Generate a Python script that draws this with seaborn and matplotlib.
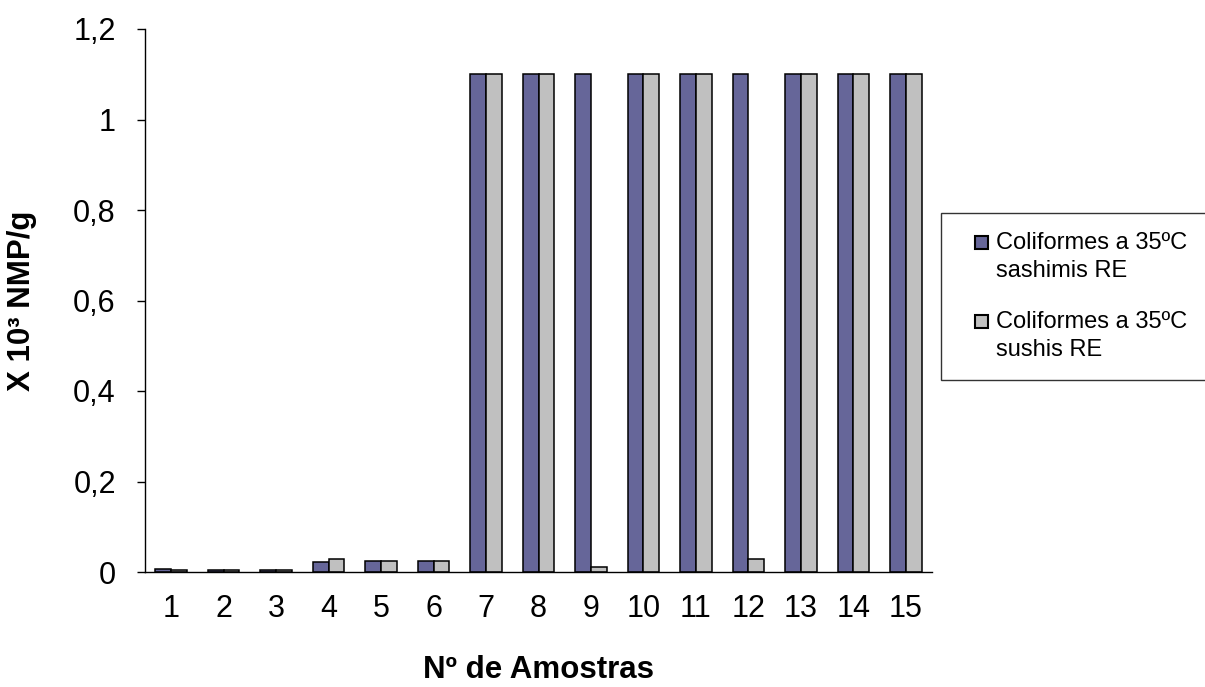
import numpy as np
import pandas as pd
import matplotlib
matplotlib.use("Agg")
import matplotlib.pyplot as plt
import seaborn as sns
from matplotlib.patches import Rectangle
from matplotlib.legend_handler import HandlerPatch
from matplotlib.ticker import FuncFormatter, FixedLocator

# ---- data ----
samples = [str(i) for i in range(1, 16)]
sashimis = [0.007, 0.004, 0.004, 0.021, 0.024, 0.024, 1.1, 1.1, 1.1, 1.1, 1.1, 1.1, 1.1, 1.1, 1.1]
sushis = [0.004, 0.004, 0.004, 0.029, 0.024, 0.024, 1.1, 1.1, 0.011, 1.1, 1.1, 0.029, 1.1, 1.1, 1.1]
series = ["Coliformes a 35ºC\nsashimis RE", "Coliformes a 35ºC\nsushis RE"]
colors = ["#666699", "#C0C0C0"]
y_ticks = [0, 0.2, 0.4, 0.6, 0.8, 1.0, 1.2]

df = pd.DataFrame({
    "amostra": samples * 2,
    "valor": sashimis + sushis,
    "serie": [series[0]] * len(samples) + [series[1]] * len(samples),
})

sns.set_style("white")
plt.rcParams["font.family"] = ["Liberation Sans", "DejaVu Sans"]
plt.rcParams["text.color"] = "black"
plt.rcParams["axes.labelcolor"] = "black"
plt.rcParams["xtick.color"] = "black"
plt.rcParams["ytick.color"] = "black"
plt.rcParams["axes.edgecolor"] = "black"

fig = plt.figure(figsize=(12.05, 6.87), dpi=100)
ax = fig.add_axes([145 / 1205, 1 - 572 / 687, (932 - 145) / 1205, (572 - 29) / 687])

sns.barplot(data=df, x="amostra", y="valor", hue="serie", order=samples,
            hue_order=series, palette=colors, width=0.6, edgecolor="black",
            linewidth=1.1, ax=ax, legend=False, saturation=1)

ax.set_xlim(-0.5, len(samples) - 0.5)
ax.set_ylim(0, 1.2)
ax.yaxis.set_major_locator(FixedLocator(y_ticks))
ax.yaxis.set_major_formatter(FuncFormatter(lambda v, p: f"{v:g}".replace(".", ",")))

# x ticks: labels at centres, tick marks at category boundaries
ax.set_xticks(range(len(samples)))
ax.set_xticklabels(samples)
ax.set_xticks(np.arange(-0.5, len(samples)), minor=True)
ax.tick_params(axis="x", which="major", length=0, pad=16, labelsize=22, labelcolor="black")
ax.tick_params(axis="x", which="minor", length=6.5, width=1, color="black", direction="out")
ax.tick_params(axis="y", which="major", length=6, width=1, color="black", direction="out",
               pad=15, labelsize=22, left=True, labelcolor="black")

for s in ["top", "right"]:
    ax.spines[s].set_visible(False)
for s in ["left", "bottom"]:
    ax.spines[s].set_color("black")
    ax.spines[s].set_linewidth(1.0)

ax.set_xlabel("Nº de Amostras", fontsize=22.5, fontweight="bold", color="black")
ax.set_ylabel("X 10³ NMP/g", fontsize=22.5, fontweight="bold", color="black")
ax.xaxis.set_label_coords(0.5, -0.153)
ax.yaxis.set_label_coords(-0.137, 0.5)


class FirstLineSquare(HandlerPatch):
    def create_artists(self, legend, orig_handle, xdescent, ydescent, width, height,
                       fontsize, trans):
        s = 0.55 * fontsize
        x0 = -xdescent + width - s
        y0 = 0.70 * fontsize
        p = Rectangle((x0, y0), s, s, facecolor=orig_handle.get_facecolor(),
                      edgecolor="black", lw=1.5, transform=trans)
        return [p]


handles = [Rectangle((0, 0), 1, 1, facecolor=c, edgecolor="black") for c in colors]
leg = fig.legend(handles, series, loc="upper left",
                 bbox_to_anchor=(941 / 1205, 1 - 213 / 687), bbox_transform=fig.transFigure,
                 frameon=True, fancybox=False, edgecolor="black", borderpad=0.8,
                 labelspacing=1.25, handlelength=1.2, handletextpad=0.35, borderaxespad=0,
                 fontsize=17, handler_map={Rectangle: FirstLineSquare()})
for t in leg.get_texts():
    t.set_linespacing(1.35)
    t.set_color("black")
leg.get_frame().set_linewidth(1.0)

fig.savefig("out.png", dpi=100)
